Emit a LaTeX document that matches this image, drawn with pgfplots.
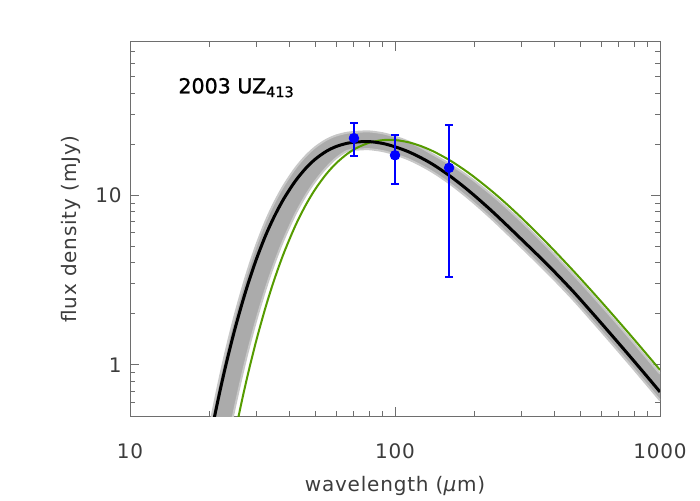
\documentclass[border=0pt]{standalone}
\usepackage{fontspec}
\setmainfont{DejaVu Sans}[LetterSpace=4]
\newfontfamily\titlefont{DejaVu Sans}[FakeBold=1.2]
\usepackage{pgfplots}
\usepackage{pgfplotstable}
\pgfplotsset{compat=1.18}
\usepgfplotslibrary{fillbetween}
\definecolor{fitgreen}{RGB}{85,155,0}
\definecolor{axgray}{RGB}{110,110,110}
\definecolor{bandgray}{RGB}{171,171,171}
\definecolor{bandedge}{RGB}{200,200,200}
\definecolor{labgray}{RGB}{60,60,60}

\pgfplotstableread{
lam F
20 0.3587
21 0.5242
22 0.7358
23 0.997
24 1.307
25 1.673
26.5 2.312
28 3.064
30 4.209
32.5 5.801
35 7.469
38 9.500
42 12.08
46 14.38
50 16.31
55 18.14
60 19.38
66 20.24
72 20.60
80 20.71
90 20.19
100 19.30
112 18.09
125 16.67
140 15.08
160 13.09
180 11.37
200 9.917
230 8.171
260 6.822
300 5.501
350 4.355
400 3.534
470 2.712
550 2.059
650 1.528
780 1.098
900 0.8434
1000 0.6933
}\blackfit

\pgfplotstableread{
lam F
24 0.2937
25 0.4061
26.5 0.6253
28 0.9114
30 1.403
32.5 2.194
35 3.167
38 4.530
42 6.573
46 8.726
50 10.85
55 13.30
60 15.44
66 17.52
72 19.06
80 20.39
90 21.13
100 21.14
112 20.55
125 19.51
140 18.09
160 16.16
180 14.34
200 12.73
230 10.69
260 9.06
300 7.367
350 5.819
400 4.700
470 3.597
550 2.748
650 2.048
780 1.476
900 1.135
1000 0.934
}\greenfit

\pgfplotstableread{
lam F
20 0.4362
21 0.6375
22 0.8950
23 1.2127
24 1.590
25 2.034
26.5 2.811
28 3.727
30 5.119
32.5 7.041
35 9.022
38 11.40
42 14.40
46 17.03
50 19.20
55 21.21
60 22.51
66 23.35
72 23.65
80 23.77
90 23.18
100 22.16
112 20.77
125 19.14
140 17.31
160 15.36
180 13.63
200 12.10
230 10.16
260 8.610
300 7.003
350 5.533
400 4.468
470 3.420
550 2.612
650 1.947
780 1.403
900 1.079
1000 0.888
}\bandup

\pgfplotstableread{
lam F
20 0.0885
21 0.1404
22 0.2122
23 0.3077
24 0.4302
25 0.5825
26.5 0.8717
28 1.238
30 1.849
32.5 2.801
35 3.932
38 5.467
42 7.688
46 9.945
50 12.10
55 14.51
60 16.54
66 18.24
72 18.57
80 18.67
90 18.20
100 17.40
112 16.30
125 15.01
140 13.57
160 11.78
180 10.22
200 8.912
230 7.335
260 6.118
300 4.932
350 3.902
400 3.164
470 2.426
550 1.841
650 1.365
780 0.9797
900 0.7518
1000 0.6179
}\bandlo

\begin{document}
\begin{tikzpicture}
\begin{axis}[
  xmode=log, ymode=log,
  scale only axis, width=265pt, height=187pt,
  xmin=10, xmax=1000, ymin=0.5, ymax=80,
  xtick={10,100,1000}, xticklabels={10,100,1000},
  ytick={1,10}, yticklabels={1,10},
  minor xtick={20,30,40,50,60,70,80,90,200,300,400,500,600,700,800,900},
  minor ytick={0.6,0.7,0.8,0.9,2,3,4,5,6,7,8,9,20,30,40,50,60,70},
  tick align=inside,
  major tick length=4.5pt, minor tick length=2.5pt,
  axis line style={axgray, line width=0.5pt},
  every tick/.style={axgray, line width=0.5pt},
  tick label style={font=\fontsize{10}{12}\selectfont, text=labgray},
  xticklabel style={anchor=base, yshift=-21.4pt},
  yticklabel style={anchor=east, inner sep=0pt, xshift=-4pt},
  xlabel={wavelength (\textit{µ}m)},
  ylabel={flux density (mJy)},
  label style={font=\fontsize{10}{12}\selectfont, text=labgray},
  xlabel style={at={(axis description cs:0.5,-0.2005)}, anchor=base},
  ylabel style={at={(axis description cs:-0.1117,0.5)}, anchor=center},
]
\addplot[name path=up, draw=bandedge, line width=1pt, smooth] table[x=lam, y=F] {\bandup};
\addplot[name path=lo, draw=bandedge, line width=1pt, smooth] table[x=lam, y=F] {\bandlo};
\addplot[bandgray] fill between[of=up and lo];
\addplot[fitgreen, line width=1pt, smooth] table[x=lam, y=F] {\greenfit};
\addplot[black, line width=1.5pt, smooth] table[x=lam, y=F] {\blackfit};
\addplot[only marks, mark=*, mark size=2.4pt, blue, mark options={fill=blue, draw=blue},
  error bars/.cd, y dir=both, y explicit,
  error bar style={line width=1pt, blue},
  error mark=|,
  error mark options={mark size=2pt, line width=1pt, blue}]
  coordinates {
    (70,21.7) += (0,4.9) -= (0,4.7)
    (100,17.2) += (0,5.5) -= (0,5.6)
    (160,14.5) += (0,11.3) -= (0,11.2)
  };
\node[anchor=base west, inner sep=0pt, font=\titlefont\fontsize{10.3}{12}\selectfont, text=black]
  at (rel axis cs:0.0906,0.8628) {2003 UZ\textsubscript{413}};
\end{axis}
\pgfresetboundingbox
\path[use as bounding box] (-65pt,-42pt) rectangle (285pt,208pt);
\end{tikzpicture}
\end{document}
